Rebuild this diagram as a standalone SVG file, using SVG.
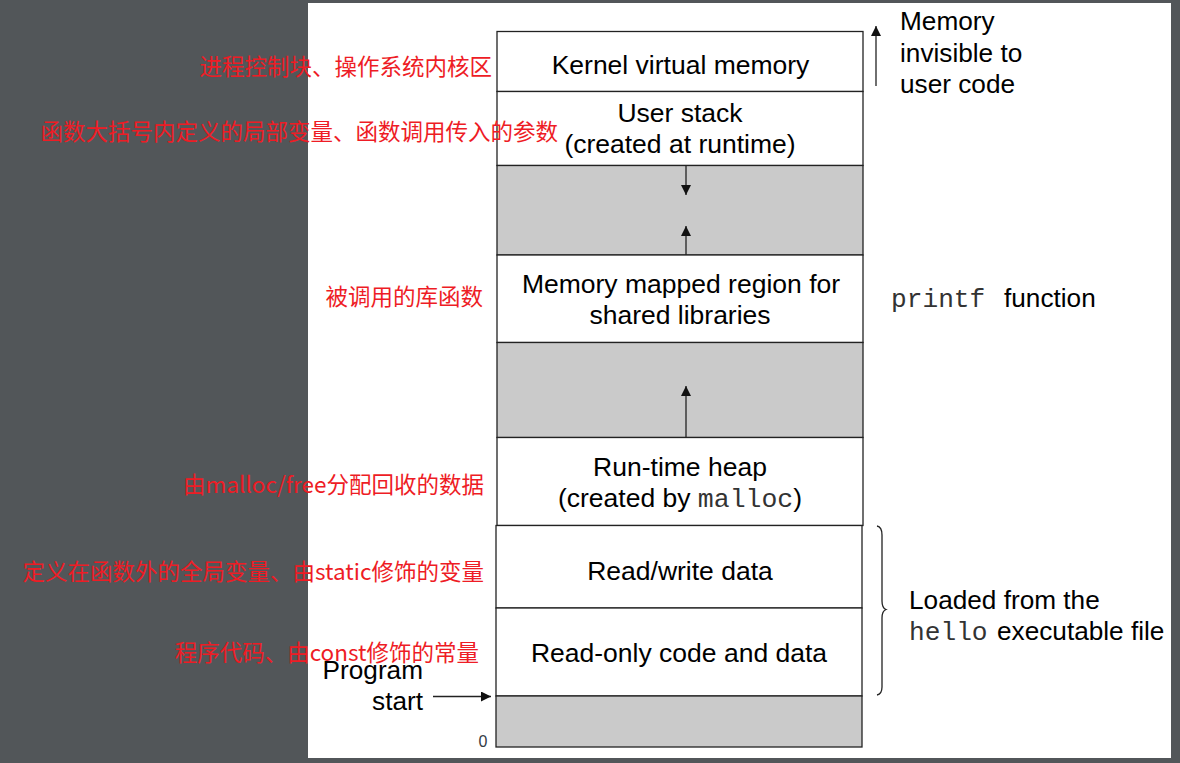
<svg xmlns="http://www.w3.org/2000/svg" width="1180" height="763" viewBox="0 0 1180 763">
<defs>
<style>
.seg{fill:#ffffff;stroke:#222222;stroke-width:1.3}
.gap{fill:#cacaca;stroke:#222222;stroke-width:1.3}
.lbl{font-family:"Liberation Sans",Arial,sans-serif;font-size:26.5px;fill:#000000;text-anchor:middle}
.side{font-family:"Liberation Sans",Arial,sans-serif;font-size:26.2px;fill:#000000}
.mono{font-family:"Liberation Mono","Courier New",monospace;fill:#333333}
.note{font-family:"Noto Sans CJK SC","Liberation Sans",sans-serif;font-size:22.5px;fill:#ee1c25;text-anchor:end}
.ln{stroke:#222222;stroke-width:1.3;fill:none}
</style>
<marker id="ah" viewBox="0 0 10 10" refX="10" refY="5" markerWidth="10" markerHeight="10" markerUnits="userSpaceOnUse" orient="auto">
<path d="M0,0 L10,5 L0,10 z" fill="#111111"/>
</marker>
</defs>
<rect x="0" y="0" width="1180" height="763" fill="#525659"/>
<rect x="308" y="3" width="863" height="755" fill="#ffffff"/>

<g id="kernel">
<rect class="seg" x="497" y="31.5" width="366" height="60"/>
<text class="lbl" x="680.5" y="74">Kernel virtual memory</text>
</g>
<g id="user-stack">
<rect class="seg" x="497" y="91.5" width="366" height="74"/>
<text class="lbl" x="680" y="122">User stack</text>
<text class="lbl" x="680" y="152.5">(created at runtime)</text>
</g>
<g id="gap-stack">
<rect class="gap" x="497" y="165.5" width="366" height="89.5"/>
</g>
<g id="mmap">
<rect class="seg" x="497" y="255" width="366" height="87.5"/>
<text class="lbl" x="681" y="293">Memory mapped region for</text>
<text class="lbl" x="680" y="324">shared libraries</text>
</g>
<g id="gap-heap">
<rect class="gap" x="497" y="342.5" width="366" height="95"/>
</g>
<g id="heap">
<rect class="seg" x="497" y="437.5" width="366" height="88"/>
<text class="lbl" x="680" y="476">Run-time heap</text>
<text class="lbl" x="680" y="507">(created by <tspan class="mono">malloc</tspan>)</text>
</g>
<g id="rw-data">
<rect class="seg" x="496" y="525.5" width="366" height="82.5"/>
<text class="lbl" x="680" y="580">Read/write data</text>
</g>
<g id="ro-code">
<rect class="seg" x="496" y="608" width="366" height="88"/>
<text class="lbl" x="679" y="662">Read-only code and data</text>
</g>
<g id="gap-bottom">
<rect class="gap" x="496" y="696" width="366" height="51"/>
<text x="483" y="747" font-family="Liberation Sans,Arial,sans-serif" font-size="16" fill="#333a44" text-anchor="middle">0</text>
</g>

<g id="connectors">
<line class="ln" x1="686" y1="165.5" x2="686" y2="195" marker-end="url(#ah)"/>
<line class="ln" x1="686" y1="255" x2="686" y2="226" marker-end="url(#ah)"/>
<line class="ln" x1="686" y1="437.5" x2="686" y2="386" marker-end="url(#ah)"/>
<line class="ln" x1="876" y1="86" x2="876" y2="26" marker-end="url(#ah)"/>
<line class="ln" x1="433" y1="696.5" x2="491" y2="696.5" marker-end="url(#ah)"/>
<path class="ln" d="M877,526 Q882,527 882,535 L882,601 Q882,608 886,609.5 Q882,611 882,618 L882,687 Q882,694 877,695"/>
</g>

<g id="label-invisible">
<text class="side" x="900" y="30">Memory</text>
<text class="side" x="900" y="61.5">invisible to</text>
<text class="side" x="900" y="92.5">user code</text>
</g>
<g id="label-printf">
<text class="side mono" x="891" y="307">printf</text>
<text class="side" x="1004" y="307">function</text>
</g>
<g id="label-loaded">
<text class="side" x="909" y="609">Loaded from the</text>
<text class="side mono" x="909" y="639.5" font-size="26">hello</text>
<text class="side" x="997" y="639.5">executable file</text>
</g>
<g id="label-program-start">
<text class="side" x="423" y="679" text-anchor="end">Program</text>
<text class="side" x="423" y="709.5" text-anchor="end">start</text>
</g>

<g id="notes">
<text class="note" x="492" y="75">进程控制块、操作系统内核区</text>
<text class="note" x="558" y="140">函数大括号内定义的局部变量、函数调用传入的参数</text>
<text class="note" x="483" y="305">被调用的库函数</text>
<text class="note" x="484" y="493">由malloc/free分配回收的数据</text>
<text class="note" x="484" y="580">定义在函数外的全局变量、由static修饰的变量</text>
<text class="note" x="479" y="661">程序代码、由const修饰的常量</text>
</g>
</svg>
